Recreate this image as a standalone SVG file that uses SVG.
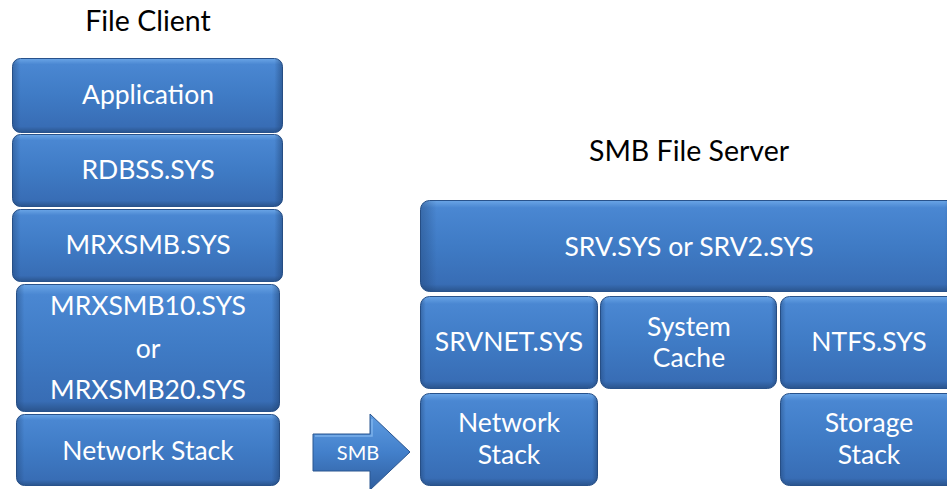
<svg xmlns="http://www.w3.org/2000/svg" width="947" height="489" viewBox="0 0 947 489">
  <defs>
    <linearGradient id="boxFill" x1="0" y1="0" x2="0" y2="1">
      <stop offset="0" stop-color="#6aa5e6"/>
      <stop offset="0.08" stop-color="#4a87d2"/>
      <stop offset="0.5" stop-color="#3f7bc5"/>
      <stop offset="0.92" stop-color="#386db5"/>
      <stop offset="1" stop-color="#2a548d"/>
    </linearGradient>
    <linearGradient id="sideShade" x1="0" y1="0" x2="1" y2="0">
      <stop offset="0" stop-color="#1e3f6e" stop-opacity="0.4"/>
      <stop offset="0.03" stop-color="#1e3f6e" stop-opacity="0"/>
      <stop offset="0.97" stop-color="#1e3f6e" stop-opacity="0"/>
      <stop offset="1" stop-color="#1e3f6e" stop-opacity="0.5"/>
    </linearGradient>
    <linearGradient id="arrowFill" x1="0" y1="0" x2="0" y2="1">
      <stop offset="0" stop-color="#5f9de2"/>
      <stop offset="0.5" stop-color="#4380cb"/>
      <stop offset="1" stop-color="#2f5e9e"/>
    </linearGradient>
  </defs>
  <style>
    .box { fill: url(#boxFill); stroke: #28528b; stroke-width: 1; }
    .shade { fill: url(#sideShade); stroke: none; }
    .label { font-family: Lato, "Liberation Sans", sans-serif; font-size: 26.5px; fill: #ffffff; text-anchor: middle; }
    .title { font-family: Lato, "Liberation Sans", sans-serif; font-size: 28.5px; fill: #000000; text-anchor: middle; }
    .small { font-family: Lato, "Liberation Sans", sans-serif; font-size: 20px; fill: #ffffff; text-anchor: middle; }
  </style>

  <rect width="947" height="489" fill="#ffffff"/>

  <text class="title" x="148" y="31">File Client</text>
  <text class="title" x="689" y="161">SMB File Server</text>

  <!-- client stack -->
  <g id="app">
    <rect class="box" x="12.5" y="58.5" width="270" height="74" rx="8"/>
    <rect class="shade" x="12.5" y="58.5" width="270" height="74" rx="8"/>
    <text class="label" x="148" y="104">Application</text>
  </g>
  <g id="rdbss">
    <rect class="box" x="12.5" y="134.5" width="270" height="72" rx="8"/>
    <rect class="shade" x="12.5" y="134.5" width="270" height="72" rx="8"/>
    <text class="label" x="148" y="179">RDBSS.SYS</text>
  </g>
  <g id="mrxsmb">
    <rect class="box" x="12.5" y="209.5" width="270" height="72" rx="8"/>
    <rect class="shade" x="12.5" y="209.5" width="270" height="72" rx="8"/>
    <text class="label" x="148" y="254">MRXSMB.SYS</text>
  </g>
  <g id="mrxsmb10">
    <rect class="box" x="16.5" y="284.5" width="263" height="127" rx="8"/>
    <rect class="shade" x="16.5" y="284.5" width="263" height="127" rx="8"/>
    <text class="label" x="148" y="315">MRXSMB10.SYS</text>
    <text class="label" x="148" y="358">or</text>
    <text class="label" x="148" y="399">MRXSMB20.SYS</text>
  </g>
  <g id="client-net">
    <rect class="box" x="16.5" y="414.5" width="263" height="71" rx="8"/>
    <rect class="shade" x="16.5" y="414.5" width="263" height="71" rx="8"/>
    <text class="label" x="148" y="460">Network Stack</text>
  </g>

  <!-- server stack -->
  <g id="srv">
    <rect class="box" x="420.5" y="200.5" width="540" height="91" rx="9"/>
    <rect class="shade" x="420.5" y="200.5" width="540" height="91" rx="9"/>
    <text class="label" x="689" y="256">SRV.SYS or SRV2.SYS</text>
  </g>
  <g id="srvnet">
    <rect class="box" x="420.5" y="296.5" width="177" height="92" rx="9"/>
    <rect class="shade" x="420.5" y="296.5" width="177" height="92" rx="9"/>
    <text class="label" x="509" y="351">SRVNET.SYS</text>
  </g>
  <g id="cache">
    <rect class="box" x="600.5" y="296.5" width="176" height="92" rx="9"/>
    <rect class="shade" x="600.5" y="296.5" width="176" height="92" rx="9"/>
    <text class="label" x="689" y="336">System</text>
    <text class="label" x="689" y="367">Cache</text>
  </g>
  <g id="ntfs">
    <rect class="box" x="780.5" y="296.5" width="180" height="92" rx="9"/>
    <rect class="shade" x="780.5" y="296.5" width="180" height="92" rx="9"/>
    <text class="label" x="869" y="351">NTFS.SYS</text>
  </g>
  <g id="server-net">
    <rect class="box" x="420.5" y="393.5" width="177" height="92" rx="9"/>
    <rect class="shade" x="420.5" y="393.5" width="177" height="92" rx="9"/>
    <text class="label" x="509" y="432">Network</text>
    <text class="label" x="509" y="464">Stack</text>
  </g>
  <g id="storage">
    <rect class="box" x="780.5" y="393.5" width="180" height="92" rx="9"/>
    <rect class="shade" x="780.5" y="393.5" width="180" height="92" rx="9"/>
    <text class="label" x="869" y="432">Storage</text>
    <text class="label" x="869" y="464">Stack</text>
  </g>

  <!-- connectors -->
  <g id="connectors">
    <g id="smb-arrow">
      <path d="M313,434 L370,434 L370,414 L410,452 L370,490 L370,471 L313,471 Z" fill="url(#arrowFill)" stroke="#2b5690" stroke-width="1"/>
      <path d="M315,436 L372,436 L372,419" fill="none" stroke="#8fc0f2" stroke-width="1.5" opacity="0.7"/>
      <text class="small" x="358" y="460">SMB</text>
    </g>
  </g>
</svg>
